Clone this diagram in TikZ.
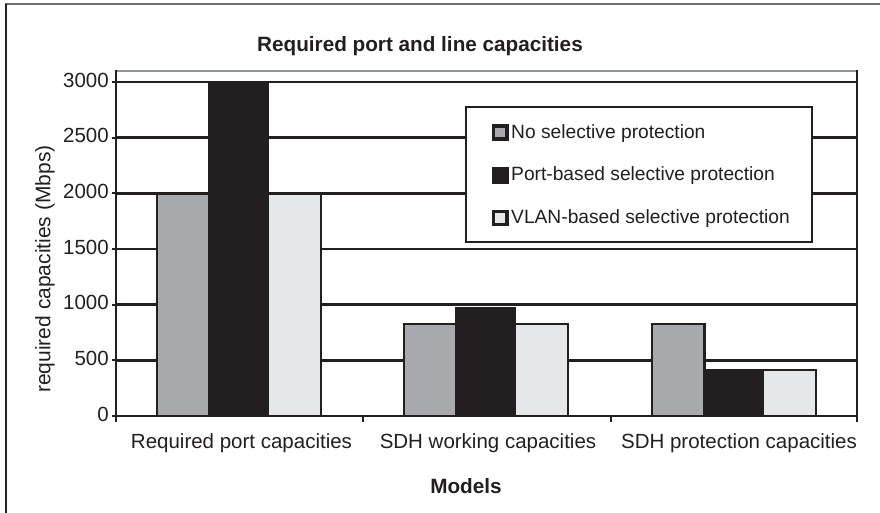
\documentclass[tikz,border=0pt]{standalone}
\usepackage{fontspec}
\setmainfont{Liberation Sans}
\definecolor{inkdark}{HTML}{231F20}
\definecolor{barmid}{HTML}{A7A9AC}
\definecolor{barlight}{HTML}{E6E7E8}
\definecolor{framegray}{HTML}{6D6E71}
\definecolor{edgegray}{HTML}{8E959B}
\tikzset{
  gridline/.style={draw=inkdark, line width=2.6pt},
  axisline/.style={draw=inkdark, line width=2.6pt},
  barmidst/.style={fill=barmid, draw=inkdark, line width=2.6pt},
  bardarkst/.style={fill=inkdark, draw=inkdark, line width=2.6pt},
  barlightst/.style={fill=barlight, draw=inkdark, line width=2.6pt},
  ticklab/.style={anchor=east, inner sep=0pt, text=inkdark, font=\fontsize{20.5}{24}\selectfont},
  catlab/.style={anchor=base, inner sep=0pt, text=inkdark, font=\fontsize{20.5}{24}\selectfont},
  boldlab/.style={anchor=base, inner sep=0pt, text=inkdark, font=\fontsize{20.7}{24}\selectfont\bfseries},
  legtext/.style={anchor=base west, inner sep=0pt, text=inkdark, font=\fontsize{19.2}{23}\selectfont},
  legkey/.style={draw=inkdark, line width=3.4pt, minimum size=13.3pt, inner sep=0pt},
}
\begin{document}
\begin{tikzpicture}[x=1pt, y=-1pt]
\useasboundingbox (0,0) rectangle (880,513);

% outer frame
\draw[framegray, line width=1.5pt] (6,513) -- (6,4) -- (880,4);
\draw[inkdark, line width=1.5pt] (6,4) -- (6,513);

% value axis scale: 0 at y=416, 3000 at y=82
\pgfmathsetmacro{\ppu}{334/3000}

% gridlines
\foreach \v in {500,1000,...,3000}{
  \pgfmathsetmacro{\yy}{416-\v*\ppu}
  \draw[gridline] (116,\yy) -- (857,\yy);
}
% plot area border
\draw[edgegray, line width=2.2pt] (116,71) -- (857,71);
\draw[axisline] (857,70) -- (857,421);

% bars: category start, values
\foreach \cs/\a/\b/\c [count=\i] in {116/2000/3000/2000, 363/825/968/825, 611/825/412/412}{
  \pgfmathsetmacro{\ya}{416-\a*\ppu}
  \pgfmathsetmacro{\yb}{416-\b*\ppu}
  \pgfmathsetmacro{\yc}{416-\c*\ppu}
  \draw[barmidst] (\cs+41,416) rectangle (\cs+93.5,\ya);
  \draw[barlightst] (\cs+152,416) rectangle (\cs+205,\yc);
  \draw[bardarkst] (\cs+93.5,416) rectangle (\cs+152,\yb);
}

% axes
\draw[axisline] (116,70) -- (116,416);
\draw[axisline] (115,416) -- (858,416);
\foreach \v in {0,500,...,3000}{
  \pgfmathsetmacro{\yy}{416-\v*\ppu}
  \draw[inkdark, line width=1.8pt] (112,\yy) -- (116,\yy);
  \node[ticklab] (tick\v) at (109,\yy-2) {\v};
}
\foreach \xx in {116,363,611,857}{
  \draw[inkdark, line width=1.8pt] (\xx,416) -- (\xx,422);
}

% category labels
\node[catlab] (catA) at (241.5,448) {Required port capacities};
\node[catlab] (catB) at (488,448) {SDH working capacities};
\node[catlab] (catC) at (739,448) {SDH protection capacities};

% titles
\node[boldlab] (title) at (420,52) {Required port and line capacities};
\node[boldlab] (xtitle) at (466,493) {Models};
\node[rotate=90, inner sep=0pt, text=inkdark, font=\fontsize{21}{24}\selectfont] (ytitle) at (45,269) {required capacities (Mbps)};

% legend
\draw[fill=white, draw=inkdark, line width=2.6pt] (466,107) rectangle (812,242);
\node[legkey, fill=barmid] (keyA) at (500.2,132.5) {};
\node[legkey, fill=inkdark] (keyB) at (500.2,175.5) {};
\node[legkey, fill=barlight] (keyC) at (500.2,218) {};
\node[legtext] (legA) at (511,138.5) {No selective protection};
\node[legtext] (legB) at (511,181) {Port-based selective protection};
\node[legtext] (legC) at (511,223.5) {VLAN-based selective protection};
\end{tikzpicture}
\end{document}
